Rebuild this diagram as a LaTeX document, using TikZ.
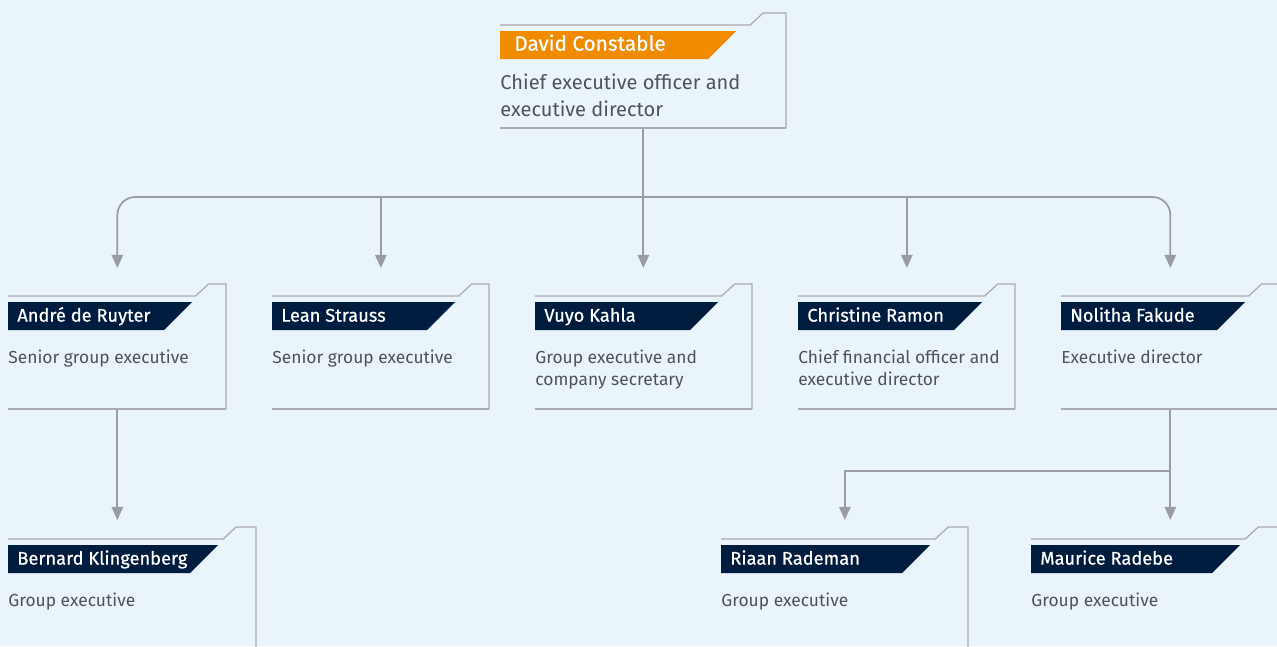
\documentclass[tikz,border=0pt]{standalone}
\usepackage{fontspec}
\setmainfont{Fira Sans}
\newfontfamily\namefont{Fira Sans}[FakeBold=0.6]
\usetikzlibrary{arrows.meta, positioning}
\definecolor{pagebg}{RGB}{234, 244, 251}
\definecolor{navyband}{RGB}{0, 28, 62}
\definecolor{orangeband}{RGB}{240, 139, 0}
\definecolor{linegray}{RGB}{155, 155, 163}
\definecolor{textgray}{RGB}{82, 82, 92}

% card: name, x, y of top line, width, height, band width, kind, person, role
\newcommand{\orgcard}[9]{%
    \node[inner sep=0pt, minimum width=#4*0.02cm, minimum height=(#5+12)*0.02cm, anchor=north west] (#1) at (#2,#3-12) {};
    \draw[cardline] (#2,#3) -- (#2+0.92*#4-13,#3) -- (#2+0.92*#4,#3-12) -- (#2+#4,#3-12) -- (#2+#4,#3+#5);
    \draw[cardline] (#2,#3+#5) -- (#2+#4,#3+#5);
    \fill[#7] (#2,#3+6) -- (#2+#6,#3+6) -- (#2+#6-28,#3+34) -- (#2,#3+34) -- cycle;
    \node[#7 name, anchor=mid west] at (#2+9,#3+21) {#8};
    \node[#7 role, anchor=north west, align=left] at (#2,#3+54) {#9};
}

\begin{document}
\begin{tikzpicture}[x=0.02cm, y=-0.02cm,
    cardline/.style={draw=linegray!85, line width=0.7pt},
    link/.style={draw=linegray, line width=1pt, -{Triangle[length=7.5pt, width=6.5pt]}},
    ceo/.style={fill=orangeband},
    ceo name/.style={inner sep=0pt, xshift=0.1cm, text=white, font=\namefont\fontsize{11.8}{14}\selectfont},
    ceo role/.style={inner sep=0pt, yshift=0.1cm, text=textgray, font=\fontsize{11.4}{15.3}\selectfont},
    exec/.style={fill=navyband},
    exec name/.style={inner sep=0pt, text=white, font=\namefont\fontsize{10.4}{12}\selectfont},
    exec role/.style={inner sep=0pt, text=textgray, font=\fontsize{9.9}{12.5}\selectfont}]

    % Background
    \fill[pagebg] (0,0) rectangle (1277,646);
    \useasboundingbox (0,0) rectangle (1277,646);
    \clip (0,0) rectangle (1277,646);

    % Top
    \orgcard{ceo}{500}{25}{286}{103}{236}{ceo}{David Constable}{Chief executive officer and\\executive director}

    % Second row
    \orgcard{andre}{8}{296}{218}{113}{184}{exec}{André de Ruyter}{Senior group executive}
    \orgcard{lean}{272}{296}{217}{113}{183}{exec}{Lean Strauss}{Senior group executive}
    \orgcard{vuyo}{535}{296}{217}{113}{183}{exec}{Vuyo Kahla}{Group executive and\\company secretary}
    \orgcard{christine}{798}{296}{217}{113}{184}{exec}{Christine Ramon}{Chief financial officer and\\executive director}
    \orgcard{nolitha}{1061}{296}{218}{113}{184}{exec}{Nolitha Fakude}{Executive director}

    % Third row
    \orgcard{bernard}{8}{539}{248}{150}{210}{exec}{Bernard Klingenberg}{Group executive}
    \orgcard{riaan}{721}{539}{247}{150}{209}{exec}{Riaan Rademan}{Group executive}
    \orgcard{maurice}{1031}{539}{247}{150}{209}{exec}{Maurice Radebe}{Group executive}

    % Connectors
    \coordinate (bus) at (643,197);
    \coordinate (split) at (1170,471);
    \draw[link, shorten >=0.32cm] (ceo.south) -- (ceo.south |- vuyo.north);
    \draw[link, rounded corners=0.36cm, shorten >=0.32cm] (bus) -| (andre.north);
    \draw[link, rounded corners=0.36cm, shorten >=0.32cm] (bus) -| (nolitha.north);
    \draw[link, shorten >=0.32cm] (bus -| lean.north) -- (lean.north);
    \draw[link, shorten >=0.32cm] (bus -| christine.north) -- (christine.north);
    \draw[link, shorten >=0.14cm] (andre.south) -- (andre.south |- bernard.north);
    \draw[link, shorten >=0.14cm] (nolitha.south) -- (nolitha.south |- maurice.north);
    \draw[link, shorten >=0.14cm] (split) -| (riaan.north);
\end{tikzpicture}
\end{document}
